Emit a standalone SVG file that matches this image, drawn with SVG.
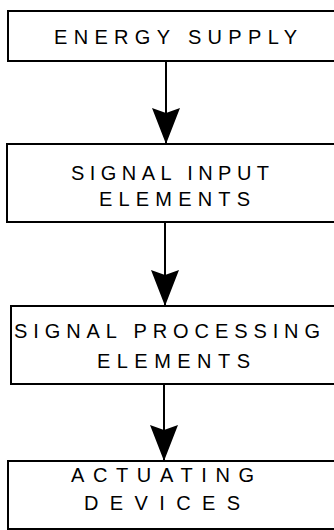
<svg xmlns="http://www.w3.org/2000/svg" width="334" height="530" viewBox="0 0 334 530">
  <defs>
    <marker id="arrowhead" viewBox="0 0 36 28" refX="36" refY="14" markerWidth="36" markerHeight="28" markerUnits="userSpaceOnUse" orient="auto">
      <path d="M0,0 L36,14 L0,28 L5,14 Z" fill="#000"/>
    </marker>
  </defs>
  <style>
    .box { fill: #fff; stroke: #000; stroke-width: 2; }
    .label { font-family: "Liberation Sans", Arial, Helvetica, sans-serif; font-size: 20px; fill: #000; }
    .edge { fill: none; stroke: #000; stroke-width: 2; marker-end: url(#arrowhead); }
  </style>
  <rect width="334" height="530" fill="#fff"/>

  <g id="connectors">
    <line class="edge" x1="166" y1="61" x2="166" y2="144"/>
    <line class="edge" x1="165" y1="222" x2="165" y2="306"/>
    <line class="edge" x1="164" y1="384" x2="164" y2="461"/>
  </g>

  <g id="energy-supply">
    <rect class="box" x="8" y="11" width="340" height="50"/>
    <text class="label" x="54" y="44" textLength="243" lengthAdjust="spacing">ENERGY SUPPLY</text>
  </g>

  <g id="signal-input">
    <rect class="box" x="7" y="144" width="340" height="78"/>
    <text class="label" x="71" y="180" textLength="198" lengthAdjust="spacing">SIGNAL INPUT</text>
    <text class="label" x="99" y="206" textLength="151" lengthAdjust="spacing">ELEMENTS</text>
  </g>

  <g id="signal-processing">
    <rect class="box" x="11" y="306" width="340" height="78"/>
    <text class="label" x="14" y="338" textLength="306" lengthAdjust="spacing">SIGNAL PROCESSING</text>
    <text class="label" x="97" y="368" textLength="153" lengthAdjust="spacing">ELEMENTS</text>
  </g>

  <g id="actuating-devices">
    <rect class="box" x="8" y="461" width="340" height="68"/>
    <text class="label" x="71" y="482" textLength="183" lengthAdjust="spacing">ACTUATING</text>
    <text class="label" x="84" y="510" textLength="156" lengthAdjust="spacing">DEVICES</text>
  </g>
</svg>
